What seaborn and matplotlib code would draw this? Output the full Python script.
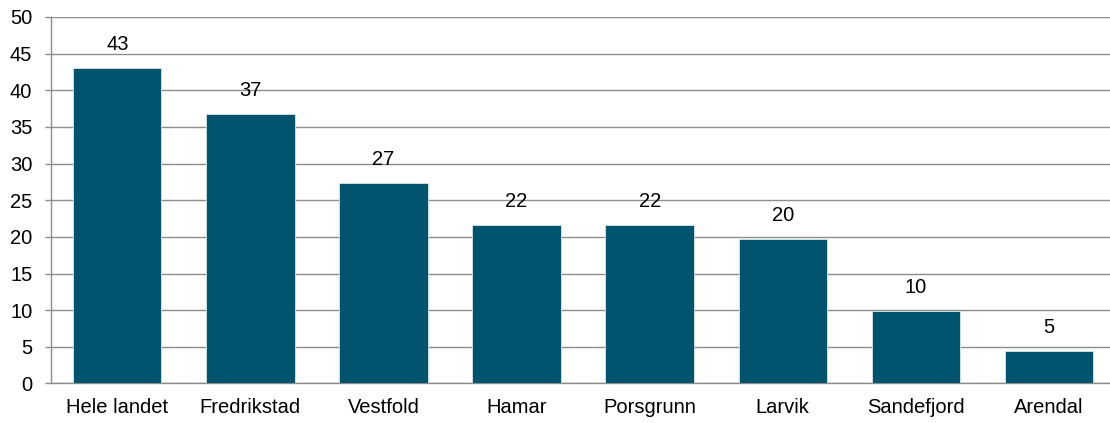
import matplotlib
matplotlib.use("Agg")
import matplotlib.pyplot as plt
import seaborn as sns
import pandas as pd

# data
steder = ["Hele landet", "Fredrikstad", "Vestfold", "Hamar", "Porsgrunn",
          "Larvik", "Sandefjord", "Arendal"]
verdier = [43.0, 36.7, 27.3, 21.6, 21.6, 19.7, 9.9, 4.5]
etiketter = ["43", "37", "27", "22", "22", "20", "10", "5"]

df = pd.DataFrame({"sted": steder, "verdi": verdier})

sns.set_style("white")
plt.rcParams["font.family"] = ["Liberation Sans", "DejaVu Sans"]

fig, ax = plt.subplots(figsize=(11.1, 4.23), dpi=100)
# plot area runs a bit past the right edge of the picture, like the original
fig.subplots_adjust(left=0.0457, right=1.005, top=0.96, bottom=0.0934)

sns.barplot(data=df, x="sted", y="verdi", color="#00546E", width=0.664,
            saturation=1, edgecolor="#d8e6ea", linewidth=0.6, ax=ax, zorder=3)

for i, (v, t) in enumerate(zip(verdier, etiketter)):
    ax.text(i, v + 3.2, t, ha="center", va="center", fontsize=14.5, color="black", zorder=4)

ax.set_ylim(0, 50)
ax.set_yticks(range(0, 51, 5))
ax.set_xlim(-0.5, len(steder) - 0.5)
ax.yaxis.grid(True, color="#8c8c8c", linewidth=1.0, zorder=0)
ax.set_axisbelow(True)

for s in ["top", "right"]:
    ax.spines[s].set_visible(False)
for s in ["left", "bottom"]:
    ax.spines[s].set_color("#8c8c8c")
    ax.spines[s].set_linewidth(1.0)

ax.set_xticks([x - 0.5 for x in range(len(steder) + 1)], minor=True)
ax.tick_params(axis="x", which="minor", length=5, color="#8c8c8c", width=1)
ax.tick_params(axis="x", which="major", length=0, labelsize=14.5, pad=10.5, labelcolor="black")
ax.tick_params(axis="y", length=4.3, color="#8c8c8c", width=1, labelsize=14.5, pad=9,
               left=True, labelcolor="black")

ax.set_xlabel("")
ax.set_ylabel("")

fig.savefig("out.png", dpi=100)
